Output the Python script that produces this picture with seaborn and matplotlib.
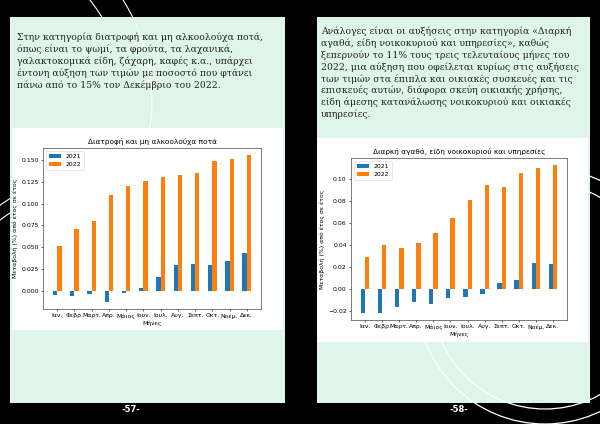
import numpy as np
import pandas as pd
import matplotlib
matplotlib.use("Agg")
import matplotlib.pyplot as plt
from matplotlib.patches import Rectangle, Circle
import seaborn as sns

# month labels shared by both charts
months = ["Ιαν.", "Φεβρ.", "Μαρτ.", "Απρ.", "Μάιος", "Ιουν.",
          "Ιουλ.", "Αυγ.", "Σεπτ.", "Οκτ.", "Νοέμ.", "Δεκ."]
years = ["2021", "2022"]

# food and non-alcoholic drinks, change from year to year
food_2021 = [-0.0045, -0.0052, -0.0027, -0.0120, -0.0019, 0.0034,
             0.0165, 0.0297, 0.0307, 0.0296, 0.0348, 0.0432]
food_2022 = [0.0519, 0.0706, 0.0803, 0.1092, 0.1205, 0.1257,
             0.1307, 0.1326, 0.1348, 0.1480, 0.1503, 0.1550]

# durable goods, household goods and services
durable_2021 = [-0.0217, -0.0217, -0.0168, -0.0122, -0.0138, -0.0086,
                -0.0073, -0.0046, 0.0058, 0.0080, 0.0235, 0.0229]
durable_2022 = [0.0294, 0.0404, 0.0376, 0.0422, 0.0514, 0.0651,
                0.0813, 0.0948, 0.0927, 0.1062, 0.1104, 0.1128]

left_text = ("Στην κατηγορία διατροφή και μη αλκοολούχα ποτά,\n"
             "όπως είναι το ψωμί, τα φρούτα, τα λαχανικά,\n"
             "γαλακτοκομικά είδη, ζάχαρη, καφές κ.α., υπάρχει\n"
             "έντονη αύξηση των τιμών με ποσοστό που φτάνει\n"
             "πάνω από το 15% τον Δεκέμβριο του 2022.")
right_text = ("Ανάλογες είναι οι αυξήσεις στην κατηγορία «Διαρκή\n"
              "αγαθά, είδη νοικοκυριού και υπηρεσίες», καθώς\n"
              "ξεπερνούν το 11% τους τρεις τελευταίους μήνες του\n"
              "2022, μια αύξηση που οφείλεται κυρίως στις αυξήσεις\n"
              "των τιμών στα έπιπλα και οικιακές συσκευές και τις\n"
              "επισκευές αυτών, διάφορα σκεύη οικιακής χρήσης,\n"
              "είδη άμεσης κατανάλωσης νοικοκυριού και οικιακές\n"
              "υπηρεσίες.")

MINT = "#dff5ea"
W, H = 600, 424


def long_form(v2021, v2022):
    return pd.DataFrame({
        "month": months * 2,
        "year": [years[0]] * len(months) + [years[1]] * len(months),
        "change": list(v2021) + list(v2022),
    })


def draw_chart(rect, df, title):
    ax = fig.add_axes(rect)
    sns.barplot(data=df, x="month", y="change", hue="year", order=months,
                hue_order=years, palette=["#1f77b4", "#ff7f0e"],
                saturation=1, width=0.5, linewidth=0, ax=ax)
    ax.set_xlim(-0.825, len(months) - 1 + 0.825)
    ax.set_title(title, fontsize=5.3, pad=3)
    ax.set_xlabel("Μήνες", fontsize=4.4, labelpad=1)
    ax.set_ylabel("Μεταβολή (%) από έτος σε έτος", fontsize=4.4, labelpad=2)
    ax.tick_params(labelsize=4.4, length=1.6, width=0.4, pad=1.5)
    for s in ax.spines.values():
        s.set_linewidth(0.45)
        s.set_color("#333333")
    sns.move_legend(ax, "upper left", title=None, fontsize=4.4,
                    frameon=True, handlelength=2.0, borderpad=0.4)
    ax.get_legend().get_frame().set_linewidth(0.4)
    return ax


def ring(center, r, zorder, clip=None, lw=0.8):
    c = Circle(center, r, fill=False, ec="white", lw=lw, zorder=zorder)
    bg.add_patch(c)
    if clip is not None:
        box = Rectangle(clip[:2], clip[2], clip[3], transform=bg.transData)
        c.set_clip_path(box)


fig = plt.figure(figsize=(6, 4.24), dpi=100, facecolor="black")

# page background: panels, decorative rings, text
bg = fig.add_axes([0, 0, 1, 1])
bg.set_xlim(0, W)
bg.set_ylim(H, 0)
bg.axis("off")
bg.set_facecolor("black")

# rings seen only on the black background
ring((-35, 100), 160, 0.5, clip=(0, 0, 200, 17))
for r in [250, 262]:
    ring((150, 420), r, 0.5, clip=(0, 150, 10, 100))

bg.add_patch(Rectangle((10, 17), 275, 386, fc=MINT, ec="none", zorder=1))
bg.add_patch(Rectangle((317, 17), 273, 386, fc=MINT, ec="none", zorder=1))

# rings drawn over the panels
ring((-35, 100), 187, 2, clip=(12, 0, 280, 140))
for r in [113, 128]:
    ring((545, 296), r, 2, lw=0.9)

bg.add_patch(Rectangle((12, 128), 271, 202, fc="white", ec="none", zorder=3))
bg.add_patch(Rectangle((317, 138), 271, 204, fc="white", ec="none", zorder=3))

bg.text(17, 33, left_text, fontsize=6.7, family="DejaVu Serif",
        color="#222222", va="top", ha="left", linespacing=1.3, zorder=4)
bg.text(321, 27, right_text, fontsize=6.7, family="DejaVu Serif",
        color="#222222", va="top", ha="left", linespacing=1.3, zorder=4)

bg.text(131, 410, "-57-", fontsize=6, color="white", weight="bold",
        ha="center", va="center")
bg.text(459, 409, "-58-", fontsize=6, color="white", weight="bold",
        ha="center", va="center")

draw_chart([43 / W, 1 - 309 / H, 218 / W, 161 / H],
           long_form(food_2021, food_2022),
           "Διατροφή και μη αλκοολούχα ποτά")
draw_chart([351 / W, 1 - 320 / H, 216 / W, 162 / H],
           long_form(durable_2021, durable_2022),
           "Διαρκή αγαθά, είδη νοικοκυριού και υπηρεσίες")

fig.savefig("out.png", dpi=100, facecolor="black")
